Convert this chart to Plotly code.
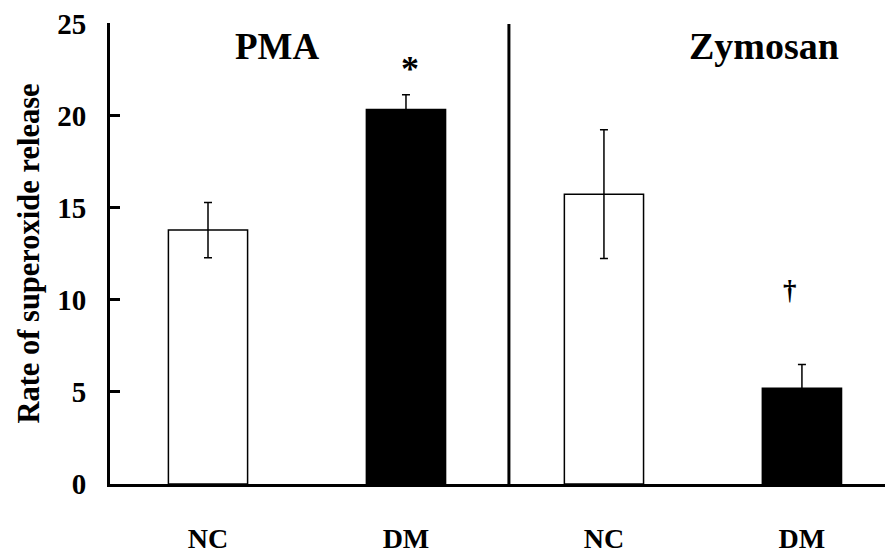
import plotly.graph_objects as go

# Data
groups = ["PMA", "PMA", "Zymosan", "Zymosan"]
labels = ["NC", "DM", "NC", "DM"]
values = [13.8, 20.35, 15.75, 5.2]
errors = [1.5, 0.8, 3.5, 1.3]
fill_colors = ["white", "black", "white", "black"]
y_ticks = [0, 5, 10, 15, 20, 25]

FONT = "Liberation Serif"
positions = list(range(len(labels)))

fig = go.Figure()
fig.add_trace(go.Bar(
    x=positions,
    y=values,
    width=0.4,
    marker=dict(color=fill_colors, line=dict(color="black", width=1.5)),
    error_y=dict(type="data", array=errors, visible=True,
                 color="black", thickness=1.5, width=4),
    showlegend=False,
))

# Divider between the two stimulus panels
fig.add_shape(type="line", xref="x", yref="y", x0=1.52, x1=1.52, y0=0, y1=25,
              line=dict(color="black", width=3))

# Panel titles
fig.add_annotation(x=0.35, y=23.8, xref="x", yref="y", text="<b>PMA</b>",
                   showarrow=False, font=dict(family=FONT, size=37, color="black"))
fig.add_annotation(x=2.81, y=23.8, xref="x", yref="y", text="<b>Zymosan</b>",
                   showarrow=False, font=dict(family=FONT, size=38, color="black"))

# Significance markers
fig.add_annotation(x=1.02, y=22.55, xref="x", yref="y", text="<b>*</b>",
                   showarrow=False, font=dict(family=FONT, size=36, color="black"))
fig.add_annotation(x=2.94, y=10.55, xref="x", yref="y", text="<b>†</b>",
                   showarrow=False, font=dict(family=FONT, size=27, color="black"))

# The page body adds an 8px margin, so the figure is 8px smaller than the window
fig.update_layout(
    width=885, height=546,
    margin=dict(l=102, r=0, t=9, b=61),
    paper_bgcolor="white", plot_bgcolor="white",
)
fig.update_xaxes(
    range=[-0.495, 3.46],
    tickvals=positions, ticktext=["<b>%s</b>" % s for s in labels],
    tickfont=dict(family=FONT, size=28, color="black"),
    showline=True, linecolor="black", linewidth=3,
    ticks="", showgrid=False, zeroline=False,
    ticklabelstandoff=27,
)
fig.update_yaxes(
    range=[0, 25.05], tickvals=y_ticks,
    ticktext=["<b>%d</b>" % v for v in y_ticks],
    tickfont=dict(family=FONT, size=29, color="black"),
    ticklabeloverflow="allow",
    showline=True, linecolor="black", linewidth=3,
    ticks="inside", ticklen=10, tickwidth=3, tickcolor="black",
    showgrid=False, zeroline=False,
    ticklabelstandoff=15,
    title=dict(text="<b>Rate of superoxide release</b>",
               font=dict(family=FONT, size=30.5, color="black"), standoff=9),
)

fig.write_html("out.html")
